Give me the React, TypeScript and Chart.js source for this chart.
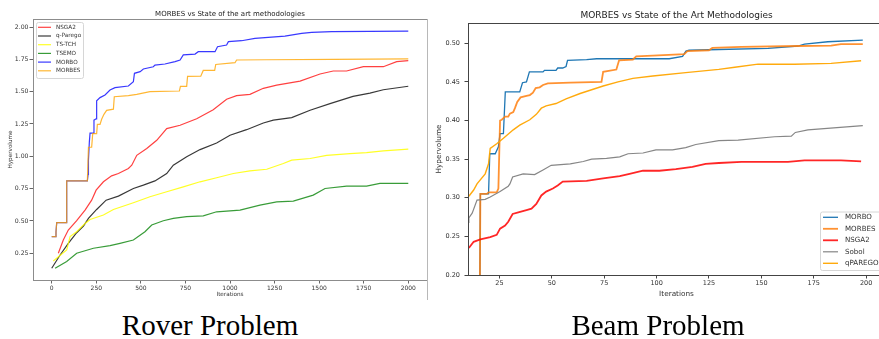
import React, { useEffect, useRef } from 'react';
import { Chart, registerables } from 'chart.js';

Chart.register(...registerables);

// ---------- Rover problem (left) ----------
const roverTitle = 'MORBES vs State of the art methodologies';
const roverLabels = ['NSGA2', 'q-Parego', 'TS-TCH', 'TSEMO', 'MORBO', 'MORBES'];
const roverColors = [
  'rgba(255,0,0,0.75)',
  'rgba(0,0,0,0.78)',
  'rgba(255,255,0,0.85)',
  'rgba(0,128,0,0.78)',
  'rgba(0,0,255,0.78)',
  'rgba(255,165,0,0.8)',
];
const roverXTicks = [0, 250, 500, 750, 1000, 1250, 1500, 1750, 2000];
const roverYTicks = [0.25, 0.5, 0.75, 1.0, 1.25, 1.5, 1.75, 2.0];

const roverNSGA2 = [
  [37, 0.25], [65, 0.353], [93, 0.43], [140, 0.502], [187, 0.584], [224, 0.661], [249, 0.738],
  [290, 0.803], [336, 0.849], [374, 0.867], [430, 0.906], [449, 0.931], [477, 1.008], [533, 1.06],
  [589, 1.124], [645, 1.214], [720, 1.24], [813, 1.291], [906, 1.36], [981, 1.441], [1037, 1.469],
  [1112, 1.479], [1187, 1.526], [1262, 1.551], [1393, 1.582], [1505, 1.637], [1579, 1.66],
  [1654, 1.66], [1748, 1.693], [1860, 1.693], [1935, 1.732], [2000, 1.74],
];
const roverQParego = [
  [0, 0.134], [47, 0.237], [93, 0.327], [140, 0.409], [178, 0.461], [206, 0.52], [252, 0.589],
  [305, 0.661], [374, 0.692], [458, 0.751], [514, 0.777], [579, 0.81], [645, 0.867], [682, 0.931],
  [757, 0.996], [832, 1.052], [925, 1.103], [1000, 1.163], [1093, 1.206], [1187, 1.258],
  [1243, 1.28], [1346, 1.299], [1449, 1.356], [1561, 1.407], [1690, 1.464], [1785, 1.489],
  [1860, 1.515], [2000, 1.542],
];
const roverTSTCH = [
  [9, 0.19], [84, 0.276], [103, 0.379], [140, 0.417], [187, 0.481], [215, 0.512], [290, 0.546],
  [346, 0.589], [458, 0.641], [551, 0.687], [645, 0.726], [738, 0.764], [832, 0.803], [925, 0.834],
  [1019, 0.867], [1112, 0.888], [1206, 0.9], [1299, 0.944], [1346, 0.97], [1449, 0.983],
  [1542, 1.008], [1673, 1.021], [1766, 1.029], [1860, 1.042], [2000, 1.055],
];
const roverTSEMO = [
  [19, 0.134], [84, 0.186], [140, 0.25], [234, 0.289], [327, 0.309], [383, 0.327], [458, 0.353],
  [523, 0.417], [561, 0.469], [626, 0.502], [682, 0.52], [757, 0.533], [850, 0.54], [925, 0.571],
  [1056, 0.584], [1168, 0.623], [1262, 0.648], [1355, 0.654], [1467, 0.7], [1533, 0.751],
  [1654, 0.769], [1766, 0.769], [1841, 0.79], [2000, 0.79],
];
const roverMORBO = [
  [0, 0.379], [19, 0.379], [24, 0.417], [28, 0.487], [84, 0.487], [84, 0.81], [200, 0.81],
  [204, 0.86], [206, 0.97], [211, 1.11], [215, 1.18], [234, 1.18], [237, 1.28], [249, 1.29],
  [252, 1.43], [271, 1.454], [299, 1.474], [327, 1.513], [355, 1.531], [430, 1.544], [458, 1.577],
  [464, 1.642], [496, 1.655], [514, 1.675], [570, 1.693], [579, 1.706], [635, 1.714], [692, 1.732],
  [720, 1.745], [738, 1.784], [804, 1.791], [822, 1.809], [916, 1.809], [930, 1.848], [981, 1.861],
  [991, 1.887], [1065, 1.894], [1140, 1.912], [1308, 1.93], [1402, 1.951], [1458, 1.959],
  [1570, 1.964], [2000, 1.969],
];
const roverMORBES = [
  [0, 0.379], [19, 0.379], [24, 0.417], [28, 0.487], [84, 0.487], [84, 0.81], [200, 0.81],
  [206, 1.07], [224, 1.07], [230, 1.175], [252, 1.175], [256, 1.247], [271, 1.247], [280, 1.286],
  [293, 1.325], [308, 1.355], [346, 1.365], [351, 1.461], [430, 1.47], [477, 1.479], [551, 1.5],
  [716, 1.505], [722, 1.541], [757, 1.541], [762, 1.618], [836, 1.62], [850, 1.664], [914, 1.664],
  [920, 1.71], [1028, 1.724], [1037, 1.745], [1206, 1.747], [1579, 1.75], [2000, 1.753],
];
const roverSeries = [roverNSGA2, roverQParego, roverTSTCH, roverTSEMO, roverMORBO, roverMORBES];
const roverWidths = [1.2, 1.2, 1.2, 1.2, 1.2, 1.2];

// ---------- Beam problem (right) ----------
const beamTitle = 'MORBES vs State of the Art Methodologies';
const beamLabels = ['MORBO', 'MORBES', 'NSGA2', 'Sobol', 'qPAREGO'];
const beamColors = [
  '#1f77b4',
  'rgba(255,127,14,0.85)',
  'rgba(255,0,0,0.85)',
  'rgba(127,127,127,0.95)',
  'rgba(255,165,0,0.95)',
];
const beamXTicks = [25, 50, 75, 100, 125, 150, 175, 200];
const beamYTicks = [0.2, 0.25, 0.3, 0.35, 0.4, 0.45, 0.5];

const beamMORBO = [
  [15.5, 0.1], [15.9, 0.305], [19.8, 0.305], [20.4, 0.357], [23, 0.357], [24.5, 0.366],
  [25.3, 0.383], [26.9, 0.383], [27.8, 0.437], [34.7, 0.437], [36, 0.449], [37.9, 0.45],
  [39.3, 0.463], [45.8, 0.463], [46.5, 0.465], [52, 0.465], [52.8, 0.468], [55.2, 0.468],
  [56.8, 0.47], [57.5, 0.478], [66.6, 0.479], [71.4, 0.48], [106, 0.48], [112.4, 0.483],
  [114, 0.49], [115.5, 0.491], [129.7, 0.492], [153.2, 0.4935], [167.5, 0.4965], [170.6, 0.499],
  [181.7, 0.502], [198.4, 0.504],
];
const beamMORBES = [
  [15.5, 0.1], [15.9, 0.305], [19, 0.305], [19.8, 0.307], [23.7, 0.307], [24.5, 0.312],
  [25.3, 0.4], [26.1, 0.401], [27.7, 0.405], [29.2, 0.405], [30, 0.409], [31.6, 0.411],
  [32.4, 0.416], [33.5, 0.424], [35.1, 0.43], [37.9, 0.432], [39.5, 0.433], [41, 0.436],
  [42.3, 0.442], [44.2, 0.443], [45.8, 0.446], [48.1, 0.448], [58.8, 0.449], [73.7, 0.45],
  [74.5, 0.463], [80.8, 0.466], [82.1, 0.478], [88.7, 0.479], [90.3, 0.483], [98.2, 0.484],
  [113.2, 0.486], [114.7, 0.49], [125, 0.491], [126.6, 0.494], [140.5, 0.4955], [167.5, 0.4965],
  [183.3, 0.497], [188, 0.499], [198.4, 0.499],
];
const beamNSGA2 = [
  [10.4, 0.235], [12.7, 0.243], [15.9, 0.246], [20.6, 0.249], [23.7, 0.252], [25.3, 0.26],
  [27.7, 0.264], [29.2, 0.269], [31.3, 0.279], [34, 0.281], [37.9, 0.284], [40.3, 0.286],
  [42.6, 0.292], [45, 0.303], [47.3, 0.308], [50.5, 0.312], [52.8, 0.316], [55.2, 0.321],
  [66.6, 0.322], [74.5, 0.325], [82.4, 0.328], [87.1, 0.331], [93.5, 0.335], [101.3, 0.335],
  [109.2, 0.337], [117.1, 0.34], [123.4, 0.344], [129.7, 0.345], [140.5, 0.3465], [162.7, 0.3465],
  [170.6, 0.3485], [188, 0.3485], [197.6, 0.347],
];
const beamSobol = [
  [10, 0.268], [10.4, 0.274], [12, 0.28], [14.3, 0.297], [18.2, 0.298], [20.6, 0.301],
  [25.3, 0.308], [29.2, 0.315], [30, 0.318], [31.3, 0.327], [36.3, 0.331], [41.8, 0.33],
  [45.8, 0.336], [49.7, 0.342], [58.8, 0.344], [65, 0.347], [69, 0.35], [76.1, 0.351],
  [82.4, 0.353], [86.4, 0.357], [93.5, 0.358], [99.7, 0.362], [107.6, 0.362], [113.9, 0.365],
  [118.7, 0.369], [129.7, 0.374], [138.9, 0.3746], [156.3, 0.379], [164.3, 0.3798],
  [166.2, 0.3846], [172.2, 0.388], [198.4, 0.3935],
];
const beamQPAREGO = [
  [10.4, 0.302], [12.7, 0.31], [14.3, 0.318], [18.2, 0.331], [19.8, 0.344], [20.6, 0.364],
  [23.7, 0.37], [26.9, 0.377], [31.6, 0.388], [34.7, 0.394], [39.5, 0.401], [42.6, 0.408],
  [45, 0.416], [47.3, 0.419], [52, 0.422], [56.8, 0.428], [63.5, 0.435], [74.5, 0.4447],
  [81.6, 0.45], [88.7, 0.4546], [98.2, 0.4576], [113.9, 0.462], [129.7, 0.4663], [137.3, 0.469],
  [148.4, 0.473], [165.9, 0.4728], [183.3, 0.474], [197.6, 0.4775],
];
const beamSeries = [beamMORBO, beamMORBES, beamNSGA2, beamSobol, beamQPAREGO];
const beamWidths = [1.3, 1.8, 1.8, 1.2, 1.4];

const FONT = '"DejaVu Sans", sans-serif';

type Cfg = {
  title: string;
  titleSize: number;
  titleY: number;
  frameColor: string;
  edgeLine?: { color: string; bottom: number };
  legend: { x: number; y: number; w: number; h: number; rowY: number; rowGap: number; lineX: number; lineLen: number; textX: number; size: number };
};

function makeDecor(cfg: Cfg) {
  return {
    id: 'decor',
    afterDraw(chart: any) {
      const { ctx, chartArea: a } = chart;
      ctx.save();
      ctx.strokeStyle = cfg.frameColor;
      ctx.lineWidth = 1;
      ctx.strokeRect(Math.round(a.left) + 0.5, Math.round(a.top) + 0.5, Math.round(a.right - a.left), Math.round(a.bottom - a.top));
      if (cfg.edgeLine) {
        const x = Math.round(a.right) + 0.5;
        ctx.beginPath();
        ctx.strokeStyle = cfg.edgeLine.color;
        ctx.moveTo(x, Math.round(a.top));
        ctx.lineTo(x, cfg.edgeLine.bottom);
        ctx.stroke();
      }
      ctx.fillStyle = '#222';
      ctx.font = `${cfg.titleSize}px ${FONT}`;
      ctx.textAlign = 'center';
      ctx.textBaseline = 'middle';
      ctx.fillText(cfg.title, (a.left + a.right) / 2, cfg.titleY);
      const L = cfg.legend;
      ctx.beginPath();
      ctx.roundRect(L.x + 0.5, L.y + 0.5, L.w, L.h, 2);
      ctx.fillStyle = 'rgba(255,255,255,0.9)';
      ctx.fill();
      ctx.strokeStyle = '#d6d6d6';
      ctx.lineWidth = 1;
      ctx.stroke();
      ctx.font = `${L.size}px ${FONT}`;
      ctx.textAlign = 'left';
      chart.data.datasets.forEach((ds: any, i: number) => {
        const y = L.rowY + i * L.rowGap;
        ctx.beginPath();
        ctx.strokeStyle = ds.borderColor;
        ctx.lineWidth = ds.borderWidth;
        ctx.moveTo(L.lineX, y);
        ctx.lineTo(L.lineX + L.lineLen, y);
        ctx.stroke();
        ctx.fillStyle = '#333';
        ctx.fillText(ds.label, L.textX, y);
      });
      ctx.restore();
    },
  };
}

function buildChart(
  canvas: HTMLCanvasElement,
  labels: string[],
  series: number[][][],
  colors: string[],
  widths: number[],
  xr: { min: number; max: number; ticks: number[]; h: number; tickFont: number; tickPad: number; titleFont: number; titlePad: number },
  yr: { min: number; max: number; ticks: number[]; w: number; tickFont: number; tickPad: number; titleFont: number; titlePad: number },
  padding: { top: number; right: number },
  axisColor: string,
  cfg: Cfg,
) {
  const n = series.length;
  return new Chart(canvas, {
    type: 'line',
    data: {
      datasets: series.map((pts, i) => ({
        label: labels[i],
        data: pts.map(([x, y]) => ({ x, y })),
        borderColor: colors[i],
        backgroundColor: colors[i],
        borderWidth: widths[i],
        pointRadius: 0,
        tension: 0,
        fill: false,
        order: n - i,
      })),
    },
    options: {
      animation: false,
      responsive: false,
      devicePixelRatio: 1,
      layout: { padding: { top: padding.top, right: padding.right, left: 0, bottom: 0 } },
      plugins: { legend: { display: false }, title: { display: false }, tooltip: { enabled: false } },
      scales: {
        x: {
          type: 'linear',
          min: xr.min,
          max: xr.max,
          afterBuildTicks: (s: any) => { s.ticks = xr.ticks.map((value) => ({ value })); },
          afterFit: (s: any) => { s.height = xr.h; },
          grid: { display: true, drawOnChartArea: false, drawTicks: true, tickLength: 3.5, tickColor: axisColor },
          border: { display: false },
          ticks: {
            autoSkip: false, maxRotation: 0, padding: xr.tickPad, color: '#333',
            font: { size: xr.tickFont, family: FONT },
            callback: (v: any) => String(v),
          },
          title: { display: true, text: 'Iterations', color: '#333', font: { size: xr.titleFont, family: FONT }, padding: { top: 0, bottom: xr.titlePad } },
        },
        y: {
          type: 'linear',
          min: yr.min,
          max: yr.max,
          afterBuildTicks: (s: any) => { s.ticks = yr.ticks.map((value) => ({ value })); },
          afterFit: (s: any) => { s.width = yr.w; },
          grid: { display: true, drawOnChartArea: false, drawTicks: true, tickLength: 3.5, tickColor: axisColor },
          border: { display: false },
          ticks: {
            autoSkip: false, padding: yr.tickPad, color: '#333',
            font: { size: yr.tickFont, family: FONT },
            callback: (v: any) => Number(v).toFixed(2),
          },
          title: { display: true, text: 'Hypervolume', color: '#333', font: { size: yr.titleFont, family: FONT }, padding: { top: yr.titlePad, bottom: 0 } },
        },
      },
    },
    plugins: [makeDecor(cfg)],
  } as any);
}

const BEAM_LEFT = 430;

function RoverChart() {
  const ref = useRef<HTMLCanvasElement>(null);
  useEffect(() => {
    const c = buildChart(
      ref.current!, roverLabels, roverSeries, roverColors, roverWidths,
      { min: -105, max: 2105, ticks: roverXTicks, h: 20, tickFont: 6, tickPad: 1.5, titleFont: 5.7, titlePad: 1.6 },
      { min: 0.0435, max: 2.062, ticks: roverYTicks, w: 33, tickFont: 6.2, tickPad: 1, titleFont: 5.7, titlePad: 7.6 },
      { top: 19, right: 13 },
      '#666',
      {
        title: roverTitle, titleSize: 7, titleY: 14, frameColor: '#8c8c8c',
        edgeLine: { color: '#b8b8b8', bottom: 300 },
        legend: { x: 36, y: 22, w: 47, h: 56, rowY: 27.3, rowGap: 8.7, lineX: 38, lineLen: 13, textX: 56, size: 5.7 },
      },
    );
    return () => c.destroy();
  }, []);
  return <canvas ref={ref} width={440} height={300} style={{ position: 'absolute', left: 0, top: 0, width: 440, height: 300 }} />;
}

function BeamChart() {
  const ref = useRef<HTMLCanvasElement>(null);
  useEffect(() => {
    const c = buildChart(
      ref.current!, beamLabels, beamSeries, beamColors, beamWidths,
      { min: 10, max: 209, ticks: beamXTicks, h: 25, tickFont: 6.5, tickPad: 1, titleFont: 7.3, titlePad: 1.6 },
      { min: 0.2, max: 0.5263, ticks: beamYTicks, w: 38, tickFont: 6.5, tickPad: 4.5, titleFont: 7.3, titlePad: 4.6 },
      { top: 23, right: 15 },
      '#444',
      {
        title: beamTitle, titleSize: 9, titleY: 15.7, frameColor: '#444',
        legend: {
          x: 820 - BEAM_LEFT, y: 211.5, w: 62, h: 58.5, rowY: 217.3, rowGap: 11.5,
          lineX: 823 - BEAM_LEFT, lineLen: 15, textX: 845 - BEAM_LEFT, size: 7.1,
        },
      },
    );
    return () => c.destroy();
  }, []);
  return <canvas ref={ref} width={470} height={300} style={{ position: 'absolute', left: BEAM_LEFT, top: 0, width: 470, height: 300 }} />;
}

const captionStyle: React.CSSProperties = {
  position: 'absolute',
  top: 311,
  width: 300,
  textAlign: 'center',
  fontFamily: '"Liberation Serif", "Times New Roman", serif',
  fontSize: 29,
  lineHeight: '29px',
  color: '#000',
  whiteSpace: 'nowrap',
};

export default function App() {
  return (
    <div style={{ position: 'absolute', left: 0, top: 0, width: 879, height: 339, overflow: 'hidden', background: '#fff' }}>
      <RoverChart />
      <BeamChart />
      <div style={{ ...captionStyle, left: 210 - 150 }}>Rover Problem</div>
      <div style={{ ...captionStyle, left: 658 - 150 }}>Beam Problem</div>
    </div>
  );
}
